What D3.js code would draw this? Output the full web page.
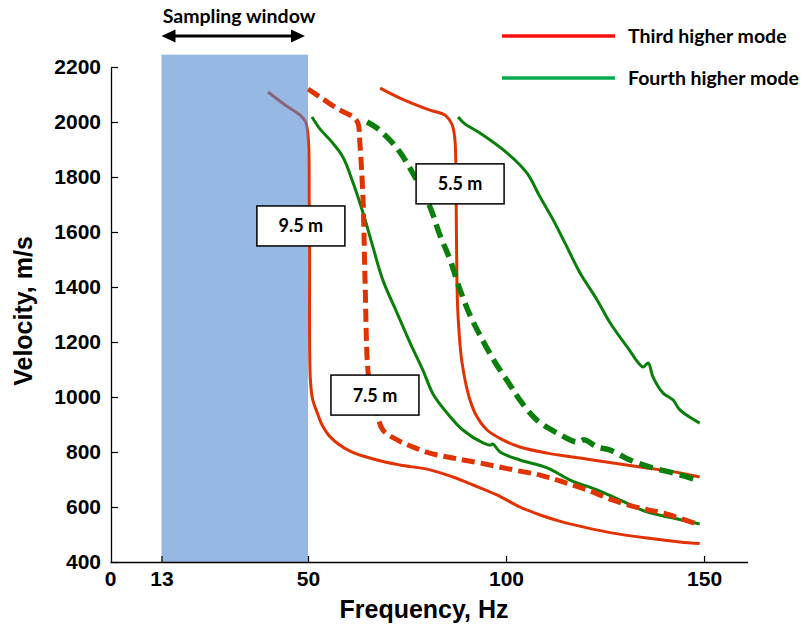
<!DOCTYPE html>
<html>
<head>
<meta charset="utf-8">
<script src="https://cdn.jsdelivr.net/npm/d3@7"></script>
<style>
  html, body { margin: 0; padding: 0; background: #fff; }
  svg { display: block; }
</style>
</head>
<body>
<svg id="chart" width="804" height="628"></svg>
<script>
// ---------- DATA ----------
const xTicks = [0, 13, 50, 100, 150];
const yTicks = [400, 600, 800, 1000, 1200, 1400, 1600, 1800, 2000, 2200];
const samplingWindow = [13, 50];
const samplingWindowTop = 2245;

// Third higher mode, 9.5 m (red solid)
const third95Freq = [39.9, 44.2, 48.0, 49.4, 50.1, 50.3, 50.4, 50.6, 51.2, 52.3, 53.5, 55.6, 60.6, 67.4, 73.2, 80.8, 86.6, 91.7, 97.7, 103.5, 108.6, 114.4, 120.5, 127.0, 135.6, 143.9, 148.9];
const third95Vel  = [2109, 2062, 2025, 2000, 1934, 1716, 1534, 1062, 989, 944, 900, 855, 803, 771, 753, 735, 709, 680, 644, 600, 571, 545, 524, 505, 487, 473, 467];
// Third higher mode, 7.5 m (red dashed)
const third75Freq = [50.0, 53.0, 58.1, 61.4, 62.6, 63.1, 63.9, 64.4, 65.2, 66.2, 67.4, 68.9, 72.5, 76.5, 80.8, 86.6, 93.4, 101.8, 108.6, 114.4, 120.5, 127.0, 133.8, 139.6, 148.9];
const third75Vel  = [2120, 2091, 2043, 2018, 1996, 1923, 1716, 1425, 1087, 1007, 942, 880, 844, 818, 796, 778, 760, 735, 716, 691, 662, 625, 596, 578, 535];
// Third higher mode, 5.5 m (red solid)
const third55Freq = [68.2, 73.2, 80.8, 84.6, 86.4, 87.1, 87.4, 87.6, 87.9, 88.9, 90.9, 92.7, 95.2, 99.2, 103.5, 110.4, 118.7, 127.0, 135.6, 143.9, 148.9];
const third55Vel  = [2123, 2087, 2043, 2025, 1989, 1934, 1716, 1425, 1291, 1124, 989, 927, 880, 844, 818, 796, 778, 760, 742, 724, 709];
// Fourth higher mode, 9.5 m (green solid)
const fourth95Freq = [51.0, 53.0, 55.6, 58.8, 61.4, 63.9, 66.4, 68.9, 72.5, 75.8, 79.0, 81.6, 85.1, 89.1, 94.2, 96.0, 96.7, 98.5, 103.5, 110.4, 116.2, 123.0, 128.8, 135.6, 142.2, 148.9];
const fourth95Vel  = [2018, 1975, 1934, 1873, 1778, 1669, 1545, 1425, 1305, 1196, 1098, 1010, 942, 880, 833, 825, 829, 800, 771, 742, 698, 662, 625, 582, 560, 538];
// Fourth higher mode, 7.5 m (green dashed)
const fourth75Freq = [64.9, 67.4, 70.7, 73.7, 77.0, 80.8, 83.3, 85.9, 88.4, 90.9, 93.4, 97.2, 101.0, 103.5, 107.8, 112.9, 117.9, 119.9, 123.0, 126.3, 131.3, 137.1, 142.2, 148.9];
const fourth75Vel  = [2000, 1978, 1934, 1880, 1800, 1691, 1589, 1498, 1389, 1298, 1225, 1127, 1044, 989, 916, 869, 836, 844, 818, 807, 771, 742, 724, 695];
// Fourth higher mode, 5.5 m (green solid)
const fourth55Freq = [87.9, 89.6, 93.4, 100.3, 105.3, 108.6, 111.9, 115.4, 118.7, 123.0, 126.3, 130.6, 134.6, 135.9, 137.1, 139.6, 142.2, 143.9, 148.9];
const fourth55Vel  = [2018, 1993, 1960, 1887, 1814, 1727, 1644, 1545, 1451, 1353, 1269, 1182, 1109, 1124, 1073, 1015, 989, 953, 905];

const depthLabels = ["9.5 m", "7.5 m", "5.5 m"];
const depthLabelFreq = [48.2, 66.9, 88.4];
const depthLabelVel = [1622, 1007, 1775];

const legendNames = ["Third higher mode", "Fourth higher mode"];

// ---------- STYLES ----------
const RED = "#e03300";
const GREEN = "#0b7f0b";
const LEG_RED = "#ff1010";
const LEG_GREEN = "#00ab4e";

const series = [
  {f: third95Freq, v: third95Vel, color: RED, w: 3, dash: null},
  {f: fourth95Freq, v: fourth95Vel, color: GREEN, w: 3, dash: null},
  {f: third55Freq, v: third55Vel, color: RED, w: 3, dash: null},
  {f: fourth55Freq, v: fourth55Vel, color: GREEN, w: 3, dash: null},
  {f: third75Freq, v: third75Vel, color: RED, w: 5, dash: "13,6"},
  {f: fourth75Freq, v: fourth75Vel, color: GREEN, w: 5.5, dash: "14,7"},
];

const svg = d3.select("#chart");
const x = d3.scaleLinear().domain([0, 161]).range([110, 747.6]);
const y = d3.scaleLinear().domain([400, 2200]).range([562, 67]);

const tickFont = "'Liberation Sans', Arial, sans-serif";
const calFont = "Lato, 'Open Sans', sans-serif";

// curves
const line = d3.line().x(d => x(d[0])).y(d => y(d[1])).curve(d3.curveCatmullRom.alpha(0.5));
series.forEach(s => {
  const pts = s.f.map((f, i) => [f, s.v[i]]);
  svg.append("path")
    .attr("d", line(pts))
    .attr("fill", "none")
    .attr("stroke", s.color)
    .attr("stroke-width", s.w)
    .attr("stroke-linejoin", "round")
    .attr("stroke-dasharray", s.dash);
});

// sampling window (semi-transparent, drawn over curves)
svg.append("rect")
  .attr("x", x(samplingWindow[0]))
  .attr("y", y(samplingWindowTop))
  .attr("width", x(samplingWindow[1]) - x(samplingWindow[0]))
  .attr("height", y(400) - y(samplingWindowTop))
  .attr("fill", "rgb(80,137,208)")
  .attr("fill-opacity", 0.6);

// axes
const xAxis = d3.axisBottom(x).tickValues(xTicks).tickSizeInner(-6).tickSizeOuter(0).tickPadding(9).tickFormat(d3.format("d"));
const gx = svg.append("g").attr("transform", "translate(0,562)").call(xAxis);
gx.select(".domain").attr("stroke", "#000").attr("stroke-width", 1.3);
gx.selectAll(".tick line").attr("stroke", "#000").attr("stroke-width", 1.2);
gx.selectAll(".tick").filter(d => d === 0).select("line").remove();
gx.selectAll("text").attr("font-family", tickFont).attr("font-weight", "bold").attr("font-size", 21).attr("fill", "#000");

const yAxis = d3.axisLeft(y).tickValues(yTicks).tickSizeInner(-7).tickSizeOuter(0).tickPadding(10).tickFormat(d3.format("d"));
const gy = svg.append("g").attr("transform", "translate(111,0)").call(yAxis);
gy.select(".domain").attr("stroke", "#000").attr("stroke-width", 1.3);
gy.selectAll(".tick line").attr("stroke", "#000").attr("stroke-width", 1.2);
gy.selectAll("text").attr("font-family", tickFont).attr("font-weight", "bold").attr("font-size", 21).attr("fill", "#000");

// axis titles
svg.append("text")
  .attr("x", 424).attr("y", 618)
  .attr("text-anchor", "middle")
  .attr("font-family", tickFont).attr("font-weight", "bold").attr("font-size", 25)
  .text("Frequency, Hz");
svg.append("text")
  .attr("transform", "translate(32,311) rotate(-90)")
  .attr("text-anchor", "middle")
  .attr("font-family", tickFont).attr("font-weight", "bold").attr("font-size", 25)
  .text("Velocity, m/s");

// depth labels
depthLabels.forEach((t, i) => {
  const cx = x(depthLabelFreq[i]), cy = y(depthLabelVel[i]);
  svg.append("rect")
    .attr("x", cx - 44).attr("y", cy - 20)
    .attr("width", 88).attr("height", 40)
    .attr("fill", "#fff").attr("stroke", "#000").attr("stroke-width", 1.5);
  svg.append("text")
    .attr("x", cx).attr("y", cy + 6.5)
    .attr("text-anchor", "middle")
    .attr("font-family", calFont).attr("font-weight", "bold").attr("font-size", 18)
    .text(t);
});

// sampling window annotation
const arrowY = 36;
const ax0 = x(samplingWindow[0]), ax1 = x(samplingWindow[1]) - 3;
svg.append("line")
  .attr("x1", ax0 + 10).attr("x2", ax1 - 10)
  .attr("y1", arrowY).attr("y2", arrowY)
  .attr("stroke", "#000").attr("stroke-width", 3);
svg.append("path")
  .attr("d", `M${ax0},${arrowY} L${ax0 + 14},${arrowY - 6.5} L${ax0 + 14},${arrowY + 6.5} Z`)
  .attr("fill", "#000");
svg.append("path")
  .attr("d", `M${ax1},${arrowY} L${ax1 - 14},${arrowY - 6.5} L${ax1 - 14},${arrowY + 6.5} Z`)
  .attr("fill", "#000");
svg.append("text")
  .attr("x", 239).attr("y", 23)
  .attr("text-anchor", "middle")
  .attr("font-family", calFont).attr("font-weight", "bold").attr("font-size", 19.5)
  .text("Sampling window");

// legend
const legColors = [LEG_RED, LEG_GREEN];
legendNames.forEach((n, i) => {
  const ly = 36 + i * 42;
  svg.append("line")
    .attr("x1", 502).attr("x2", 615)
    .attr("y1", ly).attr("y2", ly)
    .attr("stroke", legColors[i]).attr("stroke-width", 3.3);
  svg.append("text")
    .attr("x", 628).attr("y", ly + 7)
    .attr("font-family", calFont).attr("font-weight", "bold").attr("font-size", 19.5)
    .attr("fill", "#000")
    .text(n);
});
</script>
</body>
</html>
